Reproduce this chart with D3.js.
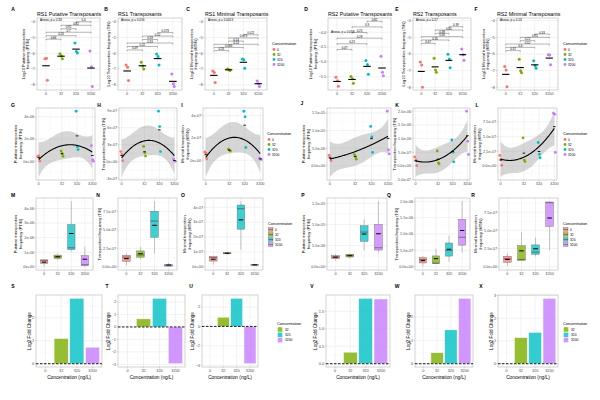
<!DOCTYPE html>
<html><head><meta charset="utf-8">
<script src="https://cdn.jsdelivr.net/npm/d3@7/dist/d3.min.js"></script>
<style>body{margin:0;background:#fff}svg{display:block;font-family:"Liberation Sans",Arial,sans-serif}</style>
</head><body><svg id="c" width="600" height="400"></svg>
<script>
// ---------------- data ----------------
const concentrations = ["0", "32", "320", "3200"];
const concValues = [0, 32, 320, 3200];
const colors = ["#F8766D", "#7CAE00", "#00BFC4", "#C77CFF"];

// three replicate frequencies per concentration (0, 32, 320, 3200 ng/L)
const rs1Putative = [[0.45e-6, 0.48e-6, 0.02e-6], [0.92e-6, 0.68e-6, 0.45e-6], [4.5e-6, 1.3e-6, 1.05e-6], [1.4e-6, 0.14e-6, 0.008e-6]];
const rs1Transposants = [[1.8e-7, 1.3e-7, 0.19e-7], [2.7e-7, 1.6e-7, 1.0e-7], [8.9e-7, 6.2e-7, 1.8e-7], [0.5e-7, 0.12e-7, 0.08e-7]];
const rs1Minimal = [[0.75e-7, 0.62e-7, 0.14e-7], [1.0e-7, 0.9e-7, 0.83e-7], [4.4e-7, 3.9e-7, 1.15e-7], [0.18e-7, 0.12e-7, 0.08e-7]];
const rs2Putative = [[3.0e-6, 2.3e-6, 1.5e-6], [3.2e-6, 2.7e-6, 1.9e-6], [11.2e-6, 8.2e-6, 3.8e-6], [15.5e-6, 4.5e-6, 3.4e-6]];
const rs2Transposants = [[3.3e-7, 2.2e-7, 0.1e-7], [5.5e-7, 1.1e-7, 0.8e-7], [9.5e-7, 5.0e-7, 1.5e-7], [20e-7, 9.0e-7, 4.2e-7]];
const rs2Minimal = [[1.8e-7, 1.1e-7, 0.11e-7], [4.8e-7, 1.0e-7, 0.75e-7], [4.0e-7, 2.0e-7, 1.4e-7], [9.0e-7, 8.8e-7, 2.3e-7]];

const titles = ["RS1 Putative Transposants", "RS1 Transposants", "RS1 Minimal Transposants",
                "RS2 Putative Transposants", "RS2 Transposants", "RS2 Minimal Transposants"];
const logYTitles = [["Log10 Putative transposition", "frequency (PT/N)"], ["Log10 Transposition frequency (T/N)"], ["Log10 Minimal transposition", "frequency (MT/N)"]];
const yTitles = [["Putative transposition", "frequency (PT/N)"], ["Transposition frequency (T/N)"], ["Minimal transposition", "frequency (MT/N)"]];

const anovaLabels = ["Anova, p = 0.33", "Anova, p = 0.016", "Anova, p = 0.0013", "Anova, p = 0.058", "Anova, p = 0.17", "Anova, p = 0.13"];
const pairs = [[0, 1], [0, 2], [0, 3], [1, 2], [1, 3], [2, 3]];
const pairLabels = [
  ["0.66", "0.26", "0.7", "0.92", "0.82", "0.4"],
  ["0.49", "0.22", "0.33", "0.33", "0.12", "0.073"],
  ["0.26", "0.066", "0.14", "0.14", "0.073", "0.021"],
  ["0.47", "0.23", "0.28", "0.23", "0.3", "0.82"],
  ["0.67", "0.35", "0.36", "0.38", "0.65", "0.39"],
  ["0.32", "0.4", "0.52", "0.22", "0.93", "0.33"]];
const bracketBase = [-5.11, -5.79, -5.83, -4.58, -5.36, -5.8];
const bracketStep = [0.22, 0.22, 0.2, 0.19, 0.2, 0.2];
const anovaY = [-3.9, -3.9, -3.9, -4.0, -3.95, -3.95];
const logDomains = [[-8.32, -3.77], [-8.32, -3.77], [-8.32, -3.77], [-5.95, -3.52], [-8.16, -3.84], [-8.16, -3.84]];
const logTicks = [[-8, -7, -6, -5, -4], [-8, -7, -6, -5, -4], [-8, -7, -6, -5, -4], [-5.5, -5, -4.5, -4], [-8, -7, -6, -5, -4], [-8, -7, -6, -5, -4]];
const logTickFormats = ["d", "d", "d", ".1f", "d", "d"];

const fitTicks = [[-2e-6, 0, 2e-6, 4e-6], [-3e-7, 0, 3e-7, 6e-7, 9e-7], [-2e-7, 0, 2e-7, 4e-7],
                  [-5e-6, 0, 5e-6, 1e-5, 1.5e-5], [-5e-7, 0, 5e-7, 1e-6, 1.5e-6, 2e-6], [-2.5e-7, 0, 2.5e-7, 5e-7, 7.5e-7]];
const fitTickDigits = [0, 0, 0, 1, 1, 1];
const boxTicks = [[0, 1e-6, 2e-6, 3e-6, 4e-6], [0, 2.5e-7, 5e-7, 7.5e-7], [0, 1e-7, 2e-7, 3e-7, 4e-7],
                  [0, 5e-6, 1e-5, 1.5e-5], [0, 5e-7, 1e-6, 1.5e-6, 2e-6], [0, 2.5e-7, 5e-7, 7.5e-7]];
const boxTickDigits = [0, 1, 0, 1, 1, 1];

// log2 fold change vs 0 ng/L for 32, 320, 3200
const foldChanges = [[1.1, 2.85, 0.72], [0.65, 2.3, -2.95], [0.95, 2.9, -3.85], [0.33, 1.87, 1.85], [0.47, 1.45, 2.8], [1.15, 1.38, 2.88]];
const fcTicks = [[0, 1, 2, 3], [-3, -2, -1, 0, 1, 2], [-4, -2, 0, 2], [0, 0.5, 1, 1.5], [0, 1, 2], [0, 1, 2, 3]];
const fcTickFormats = ["d", "d", "d", ".1f", "d", "d"];

const datasets = [rs1Putative, rs1Transposants, rs1Minimal, rs2Putative, rs2Transposants, rs2Minimal];

// ---------------- layout ----------------
const rowsY = [[18, 90], [108, 180], [198, 270], [295, 367]];
const panelX = [
  [[37, 100], [118, 182], [205, 267], [328, 391], [413, 471], [497, 558]],
  [[36, 95], [119, 177], [203, 263], [327, 391], [413, 470], [498, 557]],
  [[36, 93], [118, 177], [205, 263], [327, 387], [415, 470], [499, 558]],
  [[36, 102], [118, 185], [202, 258], [326, 390], [415, 473], [498, 558]]];
const letterPos = [
  [[13, 11], [106, 11], [188, 11], [306, 11], [397, 11], [476, 11]],
  [[13, 107], [99, 107], [182, 107], [302, 105], [397, 107], [477, 107]],
  [[13, 197], [98, 197], [183, 197], [303, 197], [389, 197], [473, 197]],
  [[13, 288], [107, 288], [191, 288], [312, 288], [397, 288], [481, 288]]];
const letters = "ABCDEFGHIJKLMNOPQRSTUVWX";

const svg = d3.select("#c");
const TICK_FS = 3.8, TITLE_FS = 4.0;

function sciFmt(v, d) {
  if (v === 0) return (0).toFixed(d) + "e+00";
  const e = Math.floor(Math.log10(Math.abs(v)) + 1e-9);
  const m = v / Math.pow(10, e);
  return m.toFixed(d) + "e" + (e < 0 ? "-" : "+") + String(Math.abs(e)).padStart(2, "0");
}

function inv3(m) {
  const [a, b, c] = m[0], [d, e, f] = m[1], [g, h, i] = m[2];
  const A = e * i - f * h, B = -(d * i - f * g), C = d * h - e * g;
  const det = a * A + b * B + c * C;
  return [[A / det, -(b * i - c * h) / det, (b * f - c * e) / det],
          [B / det, (a * i - c * g) / det, -(a * f - c * d) / det],
          [C / det, -(a * h - b * g) / det, (a * e - b * d) / det]];
}
function quadFit(xs, ys) {
  const S = [[0, 0, 0], [0, 0, 0], [0, 0, 0]], T = [0, 0, 0];
  xs.forEach((x, k) => {
    const r = [1, x, x * x];
    for (let a = 0; a < 3; a++) { T[a] += r[a] * ys[k]; for (let b = 0; b < 3; b++) S[a][b] += r[a] * r[b]; }
  });
  const inv = inv3(S);
  const beta = [0, 1, 2].map(a => inv[a][0] * T[0] + inv[a][1] * T[1] + inv[a][2] * T[2]);
  const pred = x => beta[0] + beta[1] * x + beta[2] * x * x;
  const rss = d3.sum(xs, (x, k) => (ys[k] - pred(x)) ** 2);
  const s2 = rss / (xs.length - 3);
  const tq = 2.262;
  return x => {
    const r = [1, x, x * x]; let v = 0;
    for (let a = 0; a < 3; a++) for (let b = 0; b < 3; b++) v += r[a] * inv[a][b] * r[b];
    const se = Math.sqrt(v * s2), f = pred(x);
    return { x, f, lo: f - tq * se, hi: f + tq * se };
  };
}

function frame(g, b, y, yTicks, yLab, xPos, xLab, xMinor) {
  const [x0, x1, y0, y1] = b;
  g.append("rect").attr("x", x0).attr("y", y0).attr("width", x1 - x0).attr("height", y1 - y0).attr("fill", "#fff");
  const dom = y.domain(), lo = Math.min(...dom), hi = Math.max(...dom);
  const step = yTicks[1] - yTicks[0];
  const minors = [];
  for (let k = -1; k < yTicks.length; k++) { const v = yTicks[0] + (k + 0.5) * step; if (v > lo && v < hi) minors.push(v); }
  g.selectAll(null).data(minors).join("line").attr("x1", x0).attr("x2", x1).attr("y1", d => y(d)).attr("y2", d => y(d))
    .attr("stroke", "#F0F0F0").attr("stroke-width", 0.3);
  if (xMinor) {
    const mx = [];
    for (let k = 0; k < xPos.length - 1; k++) mx.push((xPos[k] + xPos[k + 1]) / 2);
    g.selectAll(null).data(mx).join("line").attr("y1", y0).attr("y2", y1).attr("x1", d => d).attr("x2", d => d)
      .attr("stroke", "#F0F0F0").attr("stroke-width", 0.3);
  }
  const ticks = yTicks.map((v, k) => ({ v, l: yLab[k] })).filter(t => t.v >= lo && t.v <= hi);
  g.selectAll(null).data(ticks).join("line").attr("x1", x0).attr("x2", x1).attr("y1", d => y(d.v)).attr("y2", d => y(d.v))
    .attr("stroke", "#E3E3E3").attr("stroke-width", 0.45);
  g.selectAll(null).data(xPos).join("line").attr("y1", y0).attr("y2", y1).attr("x1", d => d).attr("x2", d => d)
    .attr("stroke", "#E3E3E3").attr("stroke-width", 0.45);
  g.selectAll(null).data(ticks).join("line").attr("x1", x0 - 1.4).attr("x2", x0).attr("y1", d => y(d.v)).attr("y2", d => y(d.v))
    .attr("stroke", "#9A9A9A").attr("stroke-width", 0.4);
  g.selectAll(null).data(xPos).join("line").attr("y1", y1).attr("y2", y1 + 1.4).attr("x1", d => d).attr("x2", d => d)
    .attr("stroke", "#9A9A9A").attr("stroke-width", 0.4);
  let maxW = 0;
  g.selectAll(null).data(ticks).join("text").attr("x", x0 - 2).attr("y", d => y(d.v)).attr("dy", "0.35em")
    .attr("text-anchor", "end").attr("font-size", TICK_FS).attr("fill", "#4D4D4D").text(d => d.l)
    .each(function () { maxW = Math.max(maxW, this.getComputedTextLength()); });
  g.selectAll(null).data(xPos).join("text").attr("x", d => d).attr("y", y1 + 2).attr("dy", "0.75em")
    .attr("text-anchor", "middle").attr("font-size", TICK_FS).attr("fill", "#4D4D4D").text((d, k) => xLab[k]);
  g.append("rect").attr("x", x0).attr("y", y0).attr("width", x1 - x0).attr("height", y1 - y0)
    .attr("fill", "none").attr("stroke", "#B5B5B5").attr("stroke-width", 0.6);
  return maxW;
}

function yTitle(g, x0, y0, y1, labW, lines, fs) {
  const xb = x0 - 2 - labW - 1.3;
  const cy = (y0 + y1) / 2;
  lines.forEach((ln, k) => {
    const xx = xb - (lines.length - 1 - k) * fs * 1.2;
    g.append("text").attr("transform", `translate(${xx},${cy}) rotate(-90)`).attr("text-anchor", "middle")
      .attr("font-size", fs).attr("fill", "#000").text(ln);
  });
}

function legend(g, x, ty, kind, y0, step) {
  g.append("text").attr("x", x).attr("y", ty).attr("font-size", 3.9).attr("fill", "#000").text("Concentration");
  const items = kind === "bar" ? [1, 2, 3] : [0, 1, 2, 3];
  items.forEach((ci, k) => {
    const cy = y0 + k * step;
    if (kind === "point") {
      g.append("circle").attr("cx", x + 2).attr("cy", cy).attr("r", 1.4).attr("fill", colors[ci]);
      g.append("text").attr("x", x + 5).attr("y", cy).attr("dy", "0.35em").attr("font-size", 3.3).text(concentrations[ci]);
    } else if (kind === "box") {
      g.append("rect").attr("x", x + 0.5).attr("y", cy - 1.8).attr("width", 4.5).attr("height", 3.6)
        .attr("fill", colors[ci]).attr("fill-opacity", 0.75).attr("stroke", "#555").attr("stroke-width", 0.35);
      g.append("line").attr("x1", x + 0.5).attr("x2", x + 5).attr("y1", cy).attr("y2", cy).attr("stroke", "#444").attr("stroke-width", 0.5);
      g.append("text").attr("x", x + 7).attr("y", cy).attr("dy", "0.35em").attr("font-size", 3.3).text(concentrations[ci]);
    } else {
      g.append("rect").attr("x", x + 0.5).attr("y", cy - 2.5).attr("width", 5).attr("height", 5)
        .attr("fill", colors[ci]).attr("fill-opacity", 0.8).attr("stroke", "#fff").attr("stroke-width", 0.4);
      g.append("text").attr("x", x + 8).attr("y", cy).attr("dy", "0.35em").attr("font-size", 3.3).text(concentrations[ci]);
    }
  });
}

function expand(lo, hi, f) { const p = (hi - lo) * f; return [lo - p, hi + p]; }
const jit = [-0.07, 0.03, 0.09];

letterPos.forEach((row, r) => row.forEach((p, c) => {
  svg.append("text").attr("x", p[0]).attr("y", p[1]).attr("text-anchor", "middle").attr("font-size", 5)
    .attr("font-weight", "bold").attr("fill", "#000").text(letters[r * 6 + c]);
}));

// ---------------- Row 1 ----------------
datasets.forEach((data, p) => {
  const g = svg.append("g");
  const [x0, x1] = panelX[0][p], [y0, y1] = rowsY[0];
  const x = d3.scalePoint().domain(concentrations).range([x0, x1]).padding(0.6);
  const y = d3.scaleLinear().domain(logDomains[p]).range([y1, y0]);
  const fmt = d3.format(logTickFormats[p]);
  const w = frame(g, [x0, x1, y0, y1], y, logTicks[p], logTicks[p].map(fmt), concentrations.map(c => x(c)), concentrations, false);
  yTitle(g, x0, y0, y1, w, logYTitles[p % 3], TITLE_FS);
  g.append("text").attr("x", x0).attr("y", 16).attr("font-size", 5.3).attr("fill", "#000").text(titles[p]);
  g.append("text").attr("x", x0 + 3).attr("y", y(anovaY[p])).attr("dy", "0.35em").attr("font-size", 3.1).text(anovaLabels[p]);
  pairs.forEach((pr, k) => {
    const yb = y(bracketBase[p] + k * bracketStep[p]);
    const xa = x(concentrations[pr[0]]), xb = x(concentrations[pr[1]]);
    g.append("path").attr("d", `M${xa},${yb + 1.2}V${yb}H${xb}V${yb + 1.2}`).attr("fill", "none")
      .attr("stroke", "#000").attr("stroke-width", 0.3);
    g.append("text").attr("x", (xa + xb) / 2).attr("y", yb - 0.5).attr("text-anchor", "middle")
      .attr("font-size", 2.9).text(pairLabels[p][k]);
  });
  const step = x.step();
  data.forEach((grp, ci) => {
    grp.forEach((v, k) => {
      g.append("circle").attr("cx", x(concentrations[ci]) + jit[k] * step).attr("cy", y(Math.log10(v)))
        .attr("r", 1.5).attr("fill", colors[ci]);
    });
    const m = d3.mean(grp, v => Math.log10(v));
    g.append("line").attr("x1", x(concentrations[ci]) - 0.25 * step).attr("x2", x(concentrations[ci]) + 0.25 * step)
      .attr("y1", y(m)).attr("y2", y(m)).attr("stroke", "#000").attr("stroke-width", 1.1);
  });
});
legend(svg, 272, 44.5, "point", 49.5, 5);
legend(svg, 563, 44.5, "point", 49.5, 5);

// ---------------- Row 2 ----------------
datasets.forEach((data, p) => {
  const g = svg.append("g");
  const [x0, x1] = panelX[1][p], [y0, y1] = rowsY[1];
  const tx = concValues.map(c => Math.log10(c + 1));
  const x = d3.scaleLinear().domain(expand(d3.min(tx), d3.max(tx), 0.05)).range([x0, x1]);
  const xs = [], ys = [];
  data.forEach((grp, ci) => grp.forEach(v => { xs.push(tx[ci]); ys.push(v); }));
  const fit = quadFit(xs, ys);
  const curve = d3.range(80).map(k => fit(d3.min(tx) + (d3.max(tx) - d3.min(tx)) * k / 79));
  const lo = Math.min(d3.min(ys), d3.min(curve, d => d.lo)), hi = Math.max(d3.max(ys), d3.max(curve, d => d.hi));
  const y = d3.scaleLinear().domain(expand(lo, hi, 0.05)).range([y1, y0]);
  const w = frame(g, [x0, x1, y0, y1], y, fitTicks[p], fitTicks[p].map(v => sciFmt(v, fitTickDigits[p])), tx.map(x), concentrations, true);
  yTitle(g, x0, y0, y1, w, yTitles[p % 3], TITLE_FS);
  g.append("path").datum(curve).attr("d", d3.area().x(d => x(d.x)).y0(d => y(d.lo)).y1(d => y(d.hi)))
    .attr("fill", "#999").attr("fill-opacity", 0.4);
  data.forEach((grp, ci) => grp.forEach((v, k) => {
    g.append("circle").attr("cx", x(tx[ci]) + jit[k] * 12).attr("cy", y(v)).attr("r", 1.4).attr("fill", colors[ci]);
  }));
  g.append("path").datum(curve).attr("d", d3.line().x(d => x(d.x)).y(d => y(d.f)))
    .attr("fill", "none").attr("stroke", "#000").attr("stroke-width", 1.1);
  data.forEach((grp, ci) => {
    const m = d3.mean(grp);
    g.append("line").attr("x1", x(tx[ci]) - 1.3).attr("x2", x(tx[ci]) + 1.3).attr("y1", y(m)).attr("y2", y(m))
      .attr("stroke", "#000").attr("stroke-width", 0.9);
  });
});
legend(svg, 267, 134.5, "point", 139.5, 5);
legend(svg, 563, 134.5, "point", 139.5, 5);

// ---------------- Row 3 ----------------
datasets.forEach((data, p) => {
  const g = svg.append("g");
  const [x0, x1] = panelX[2][p], [y0, y1] = rowsY[2];
  const x = d3.scalePoint().domain(concentrations).range([x0, x1]).padding(0.6);
  const all = data.flat();
  const y = d3.scaleLinear().domain(expand(Math.min(0, d3.min(all)), d3.max(all), 0.05)).range([y1, y0]);
  const w = frame(g, [x0, x1, y0, y1], y, boxTicks[p], boxTicks[p].map(v => sciFmt(v, boxTickDigits[p])), concentrations.map(c => x(c)), concentrations, false);
  yTitle(g, x0, y0, y1, w, yTitles[p % 3], TITLE_FS);
  const bw = x.step() * 0.55;
  data.forEach((grp, ci) => {
    const s = grp.slice().sort(d3.ascending);
    const q1 = d3.quantile(s, 0.25), q2 = d3.quantile(s, 0.5), q3 = d3.quantile(s, 0.75);
    const cx = x(concentrations[ci]);
    g.append("line").attr("x1", cx).attr("x2", cx).attr("y1", y(s[0])).attr("y2", y(q1)).attr("stroke", "#8C8C8C").attr("stroke-width", 0.5);
    g.append("line").attr("x1", cx).attr("x2", cx).attr("y1", y(q3)).attr("y2", y(s[s.length - 1])).attr("stroke", "#8C8C8C").attr("stroke-width", 0.5);
    g.append("rect").attr("x", cx - bw / 2).attr("width", bw).attr("y", y(q3)).attr("height", Math.max(0.6, y(q1) - y(q3)))
      .attr("fill", colors[ci]).attr("fill-opacity", 0.75).attr("stroke", "#666").attr("stroke-width", 0.4);
    g.append("line").attr("x1", cx - bw / 2).attr("x2", cx + bw / 2).attr("y1", y(q2)).attr("y2", y(q2)).attr("stroke", "#444").attr("stroke-width", 0.6);
    const m = d3.mean(grp);
    g.append("line").attr("x1", cx - bw * 0.3).attr("x2", cx + bw * 0.3).attr("y1", y(m)).attr("y2", y(m)).attr("stroke", "#000").attr("stroke-width", 1);
  });
});
legend(svg, 268, 224.5, "box", 229.5, 5);
legend(svg, 563, 224.5, "box", 229.5, 5);

// ---------------- Row 4 ----------------
foldChanges.forEach((fc, p) => {
  const g = svg.append("g");
  const [x0, x1] = panelX[3][p], [y0, y1] = rowsY[3];
  const x = d3.scalePoint().domain(concentrations).range([x0, x1]).padding(0.6);
  const y = d3.scaleLinear().domain(expand(Math.min(0, d3.min(fc)), Math.max(0, d3.max(fc)), 0.05)).range([y1, y0]);
  const fmt = d3.format(fcTickFormats[p]);
  const w = frame(g, [x0, x1, y0, y1], y, fcTicks[p], fcTicks[p].map(fmt), concentrations.map(c => x(c)), concentrations, false);
  yTitle(g, x0, y0, y1, w, ["Log2 Fold Change"], 4.6);
  g.append("text").attr("x", (x0 + x1) / 2).attr("y", 379).attr("text-anchor", "middle").attr("font-size", 4.8).text("Concentration (ng/L)");
  const bw = x.step() * 0.9;
  fc.forEach((v, k) => {
    const ci = k + 1, cx = x(concentrations[ci]);
    g.append("rect").attr("x", cx - bw / 2).attr("width", bw).attr("y", y(Math.max(0, v))).attr("height", Math.abs(y(v) - y(0)))
      .attr("fill", colors[ci]).attr("fill-opacity", 0.8).attr("stroke", "#fff").attr("stroke-width", 0.5);
  });
  g.append("line").attr("x1", x0).attr("x2", x1).attr("y1", y(0)).attr("y2", y(0)).attr("stroke", "#000")
    .attr("stroke-width", 0.9).attr("stroke-dasharray", "2.5,1.5");
});
legend(svg, 277, 324.5, "bar", 329.5, 5.3);
legend(svg, 563, 324.5, "bar", 329.5, 5.3);
</script></body></html>
